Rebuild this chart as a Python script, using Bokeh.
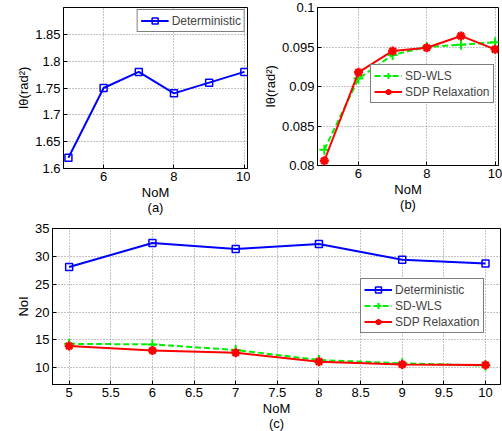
from bokeh.plotting import figure
from bokeh.layouts import column, row
from bokeh.models import FixedTicker, Legend, LegendItem
from bokeh.embed import file_html
from bokeh.resources import INLINE

nom = [5, 6, 7, 8, 9, 10]
a_det = [1.62, 1.75, 1.78, 1.74, 1.76, 1.78]
b_sdwls = [0.0820, 0.0910, 0.0940, 0.0950, 0.0953, 0.0956]
b_sdp = [0.0806, 0.0918, 0.0945, 0.0949, 0.0964, 0.0947]
c_det = [28.1, 32.4, 31.3, 32.2, 29.4, 28.7]
c_sdwls = [14.3, 14.2, 13.2, 11.4, 10.8, 10.4]
c_sdp = [13.9, 13.1, 12.7, 11.1, 10.6, 10.5]

a_xticks = [6, 8, 10]
a_yticks = [1.6, 1.65, 1.7, 1.75, 1.8, 1.85]
a_ylabels = ["1.6", "1.65", "1.7", "1.75", "1.8", "1.85"]
b_yticks = [0.08, 0.085, 0.09, 0.095, 0.1]
b_ylabels = ["0.08", "0.085", "0.09", "0.095", "0.1"]
c_xticks = [5, 5.5, 6, 6.5, 7, 7.5, 8, 8.5, 9, 9.5, 10]
c_xlabels = ["5", "5.5", "6", "6.5", "7", "7.5", "8", "8.5", "9", "9.5", "10"]
c_yticks = [10, 15, 20, 25, 30, 35]

FONT = "Liberation Sans"
BLUE, GREEN, RED = "#0000ff", "#00ee00", "#ff0000"


def style(p, xticks, yticks, ylabels=None, xlabels=None):
    p.outline_line_color = "black"
    p.outline_line_width = 1
    p.background_fill_color = "white"
    p.border_fill_color = "white"
    for ax in (p.xaxis[0], p.yaxis[0]):
        ax.major_label_text_font = FONT
        ax.major_label_text_font_size = "13px"
        ax.major_label_text_color = "black"
        ax.axis_label_text_font = FONT
        ax.axis_label_text_font_size = "13px"
        ax.axis_label_text_font_style = "normal"
        ax.axis_label_text_color = "black"
        ax.axis_label_text_line_height = 1.0
        ax.major_tick_in = 4
        ax.major_tick_out = 0
        ax.minor_tick_in = 0
        ax.minor_tick_out = 0
        ax.axis_line_color = "black"
        ax.major_tick_line_color = "black"
        ax.major_label_standoff = 3
        ax.axis_label_standoff = 1
    p.xaxis.ticker = FixedTicker(ticks=xticks)
    p.yaxis.ticker = FixedTicker(ticks=yticks)
    if ylabels:
        p.yaxis.major_label_overrides = {t: s for t, s in zip(yticks, ylabels)}
    if xlabels:
        p.xaxis.major_label_overrides = {t: s for t, s in zip(xticks, xlabels)}
    p.xgrid[0].ticker = FixedTicker(ticks=xticks)
    p.ygrid[0].ticker = FixedTicker(ticks=yticks)
    for g in (p.xgrid[0], p.ygrid[0]):
        g.grid_line_color = "#888888"
        g.grid_line_dash = "1 2"
        g.grid_line_width = 1


def legend(p, items, loc):
    lg = Legend(items=items, location=loc)
    lg.label_text_font = FONT
    lg.label_text_font_size = "12px"
    lg.border_line_color = "black"
    lg.border_line_width = 1
    lg.background_fill_alpha = 1
    lg.glyph_width = 28
    lg.glyph_height = 15
    lg.label_height = 15
    lg.spacing = 1
    lg.padding = 3
    lg.margin = 2
    lg.label_standoff = 3
    p.add_layout(lg)


def det(p, x, y):
    r1 = p.line(x, y, color=BLUE, line_width=2)
    r2 = p.scatter(x, y, marker="square", size=7, line_color=BLUE, fill_color=None, line_width=1.5)
    return [r1, r2]


def sdwls(p, x, y):
    r1 = p.line(x, y, color=GREEN, line_width=2, line_dash="6 3")
    r2 = p.scatter(x, y, marker="cross", size=10, line_color=GREEN, line_width=2)
    return [r1, r2]


def sdp(p, x, y):
    r1 = p.line(x, y, color=RED, line_width=2)
    r2 = p.scatter(x, y, marker="asterisk", size=9, line_color=RED, line_width=2.5)
    return [r1, r2]


# (a)
pa = figure(frame_width=184, frame_height=161, x_range=(4.86, 10.09), y_range=(1.6, 1.9),
            output_backend="svg", toolbar_location=None,
            min_border_left=63, min_border_right=3, min_border_top=5, min_border_bottom=45,
            x_axis_label="NoM\n(a)", y_axis_label="Iθ(rad²)")
style(pa, a_xticks, a_yticks, a_ylabels)
ra = det(pa, nom, a_det)
legend(pa, [LegendItem(label="Deterministic", renderers=ra)], "top_right")

# (b)
pb = figure(frame_width=181, frame_height=158, x_range=(4.8, 10.1), y_range=(0.08, 0.1),
            output_backend="svg", toolbar_location=None,
            min_border_left=67, min_border_right=4, min_border_top=7, min_border_bottom=46,
            x_axis_label="NoM\n(b)", y_axis_label="Iθ(rad²)")
style(pb, a_xticks, b_yticks, b_ylabels)
rb1 = sdwls(pb, nom, b_sdwls)
rb2 = sdp(pb, nom, b_sdp)
legend(pb, [LegendItem(label="SD-WLS", renderers=rb1),
            LegendItem(label="SDP Relaxation", renderers=rb2)], (53, 62))

# (c)
pc = figure(frame_width=448, frame_height=156, x_range=(4.8, 10.18), y_range=(7, 35),
            output_backend="svg", toolbar_location=None,
            min_border_left=52, min_border_right=2, min_border_top=13, min_border_bottom=45,
            x_axis_label="NoM\n(c)", y_axis_label="NoI")
style(pc, c_xticks, c_yticks, None, c_xlabels)
rc1 = det(pc, nom, c_det)
rc2 = sdwls(pc, nom, c_sdwls)
rc3 = sdp(pc, nom, c_sdp)
legend(pc, [LegendItem(label="Deterministic", renderers=rc1),
            LegendItem(label="SD-WLS", renderers=rc2),
            LegendItem(label="SDP Relaxation", renderers=rc3)], (308, 51))

layout = column(row(pa, pb, spacing=0), pc, spacing=0)
open("out.html", "w").write(file_html(layout, INLINE))
